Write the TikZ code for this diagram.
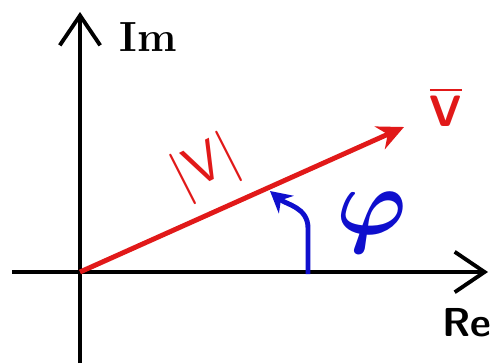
\documentclass[tikz,border=0pt]{standalone}
\usepackage{amsmath, amssymb, bm}
\usepackage{tikz}
\usetikzlibrary{arrows.meta, positioning}
\definecolor{vecred}{RGB}{225,25,25}
\definecolor{penblue}{RGB}{15,15,205}

\begin{document}
\begin{tikzpicture}[x=0.02cm, y=0.02cm, >=Stealth,
    axis/.style={line width=2.2pt, -{Straight Barb[length=17pt, width=23pt]}},
    phasor/.style={line width=2.8pt, vecred, -{Stealth[length=15pt, width=14pt]}},
    anglearrow/.style={line width=2.8pt, penblue, -{Stealth[length=12pt, width=13pt]}},
    every node/.style={inner sep=0pt}]
  \useasboundingbox (0,0) rectangle (492,363);
  % axes
  \coordinate (O) at (80,91);
  \coordinate (ImTip) at (80,351);
  \coordinate (ImEnd) at (80,0);
  \coordinate (ReTip) at (488,91);
  \coordinate (ReEnd) at (12,91);
  \draw[axis] (ImEnd) -- (ImTip);
  \draw[axis] (ReEnd) -- (ReTip);
  \node[font=\fontsize{24}{28}\selectfont\bfseries] (imlabel) at (148,326) {Im};
  \node[font=\fontsize{23}{28}\selectfont\sffamily\bfseries] (relabel) at (467,40) {Re};

  % phasor
  \coordinate (Vtip) at (404,236);
  \draw[phasor] (O) -- (Vtip);
  \node[vecred, font=\fontsize{25}{30}\selectfont\sffamily\bfseries] (vlabel) at (446,256) {$\overline{\text{V}}$};
  \node[vecred, rotate=27, font=\fontsize{32}{40}\selectfont\sffamily] (maglabel) at (206,195) {|V|};

  % angle
  \coordinate (phiA) at (308,89);
  \coordinate (phiB) at (270,172);
  \draw[anglearrow] (phiA) -- (308,135) to[out=90, in=-40] (phiB);
  \node[penblue, scale=2.6, font=\fontsize{20}{24}\selectfont] (philabel) at (372,140) {$\bm{\varphi}$};
\end{tikzpicture}
\end{document}
